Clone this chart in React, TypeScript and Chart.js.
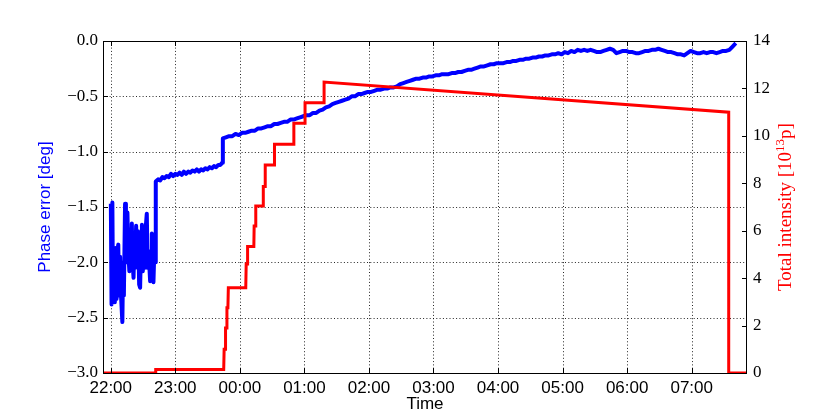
import React, { useEffect, useRef } from 'react';
import { Chart, registerables } from 'chart.js';

Chart.register(...registerables);

// x values are minutes after 22:00
const hourTicks = [0, 60, 120, 180, 240, 300, 360, 420, 480, 540];
const hourLabels = ['22:00', '23:00', '00:00', '01:00', '02:00', '03:00', '04:00', '05:00', '06:00', '07:00'];
const phaseTicks = [-3, -2.5, -2, -1.5, -1, -0.5, 0];
const intensityTicks = [0, 2, 4, 6, 8, 10, 12, 14];

const phaseTimes = [
  0.1, 0.75, 1.5, 2.1, 3.1, 3.8, 4.6, 5.4, 6.1, 7.0, 7.7, 8.7, 9.6, 10.8, 11.5, 12.2, 13.3, 14.1, 14.7, 15.5,
  16.3, 17.3, 18.0, 18.9, 19.6, 20.3, 21.2, 22.0, 22.6, 23.6, 24.5, 25.4, 26.4, 27.3, 28.2, 29.0, 29.8, 30.6,
  31.5, 32.4, 33.5, 34.3, 35.2, 36.6, 37.5, 38.2, 38.9, 39.7, 40.5, 41.3, 41.7,
  42, 44, 46, 48, 50, 52, 54, 56, 58, 60, 62, 64, 66, 68, 70, 72, 74, 76, 78, 80, 82, 84, 86, 88, 90, 92, 94,
  96, 98, 100, 102, 103.5,
  104.2, 107, 110, 113, 116, 119, 122, 125, 128, 131, 134, 137, 140, 143, 146, 149, 152, 155, 158, 161, 164,
  167, 170, 173, 176, 179, 182, 185, 188, 191, 194, 197, 200, 203, 206,
  209, 212, 215, 218, 221, 224, 227, 230, 233, 236, 239, 242, 245, 248, 251, 254, 257, 260, 263, 266, 269,
  272, 275, 278, 281, 284, 287, 290, 293, 296, 299, 302, 305, 308, 311, 314, 317, 320, 323, 326, 329, 332,
  335, 338, 341, 344, 347, 350, 353, 356, 359, 362, 365, 368, 371, 374, 377, 380, 383, 386, 389, 392, 395,
  398, 401, 404, 407, 410, 413, 416, 419, 422, 425, 428, 431, 434, 437, 440, 443, 446, 449, 452,
  455, 458, 461, 464, 467, 470, 473, 476, 479, 482, 485, 488, 491, 494, 497, 500, 503, 506, 509, 512, 515,
  518, 521, 524, 527, 530, 533, 536, 539, 542, 545, 548, 551, 554, 557, 560, 563, 566, 569, 572, 575, 578, 581,
];
const phaseValues = [
  -1.47, -2.38, -1.46, -2.30, -1.93, -2.36, -1.87, -2.33, -1.90, -1.84, -2.30, -1.95, -2.31, -2.54, -2.00,
  -2.30, -1.47, -1.52, -2.00, -1.55, -1.90, -2.08, -1.70, -1.97, -1.65, -2.00, -2.14, -1.80, -2.05, -1.67,
  -2.00, -1.72, -2.20, -2.23, -1.80, -1.66, -2.08, -1.85, -2.05, -1.70, -1.56, -2.05, -1.90, -2.17, -1.95,
  -1.74, -2.00, -2.18, -1.90, -2.00, -1.28,
  -1.27, -1.25, -1.26, -1.23, -1.24, -1.22, -1.23, -1.20, -1.22, -1.20, -1.21, -1.19, -1.21, -1.18, -1.20,
  -1.18, -1.19, -1.17, -1.18, -1.16, -1.18, -1.16, -1.17, -1.15, -1.16, -1.14, -1.15, -1.13, -1.14, -1.12,
  -1.12, -1.10,
  -0.88, -0.87, -0.86, -0.86, -0.84, -0.85, -0.83, -0.83, -0.82, -0.81, -0.81, -0.79, -0.79, -0.78, -0.77,
  -0.77, -0.75, -0.75, -0.74, -0.73, -0.73, -0.71, -0.71, -0.70, -0.69, -0.68, -0.67, -0.67, -0.65, -0.65,
  -0.63, -0.62, -0.60, -0.59, -0.57,
  -0.56, -0.55, -0.54, -0.53, -0.52, -0.50, -0.50, -0.48, -0.48, -0.47, -0.46, -0.46, -0.45, -0.44, -0.44,
  -0.43, -0.43, -0.42, -0.42, -0.41, -0.39, -0.38, -0.37, -0.36, -0.35, -0.34, -0.34, -0.33, -0.33, -0.32,
  -0.32, -0.31, -0.31, -0.30, -0.30, -0.30, -0.29, -0.29, -0.28, -0.28, -0.27, -0.26, -0.26, -0.25, -0.24,
  -0.23, -0.23, -0.22, -0.21, -0.21, -0.20, -0.20, -0.20, -0.19, -0.19, -0.18, -0.18, -0.17, -0.17, -0.16,
  -0.16, -0.15, -0.15, -0.14, -0.14, -0.13, -0.13, -0.12, -0.12, -0.11, -0.12, -0.10, -0.11, -0.09, -0.10,
  -0.08, -0.09, -0.08, -0.09, -0.08, -0.09, -0.10,
  -0.10, -0.09, -0.08, -0.07, -0.08, -0.11, -0.10, -0.09, -0.09, -0.10, -0.10, -0.11, -0.11, -0.10, -0.09,
  -0.09, -0.08, -0.08, -0.07, -0.08, -0.09, -0.10, -0.10, -0.11, -0.12, -0.12, -0.13, -0.11, -0.09, -0.10,
  -0.11, -0.11, -0.10, -0.11, -0.10, -0.10, -0.11, -0.10, -0.09, -0.09, -0.08, -0.05, -0.02,
];

const intensityTimes = [
  -7.2, 41.8, 41.8, 105.0, 105.4, 106.3, 106.7, 107.6, 108.0, 108.9, 109.3, 125.5, 125.9, 126.7, 127.2,
  133.0, 133.3, 134.5, 134.8, 141.6, 141.8, 143.4, 143.6, 152.2, 152.2, 170.2, 170.2, 180.6, 180.6, 198.3,
  198.3, 574.4, 574.4, 591.4,
];
const intensityValues = [
  0, 0, 0.15, 0.15, 1.0, 1.0, 1.9, 1.9, 2.75, 2.75, 3.6, 3.6, 4.6, 4.6, 5.33,
  5.33, 6.2, 6.2, 7.04, 7.04, 7.86, 7.86, 8.77, 8.77, 9.65, 9.65, 10.53, 10.53, 11.4, 11.4,
  12.27, 11.0, 0, 0,
];

const X_MIN = -7.2;
const X_MAX = 591.4;

const SANS = '"Liberation Sans", Arial, sans-serif';
const SERIF = '"Liberation Serif", "Times New Roman", serif';

const framePlugin = {
  id: 'frame',
  beforeDatasetsDraw(chart: any) {
    const { ctx, chartArea: a, scales } = chart;
    ctx.save();
    ctx.strokeStyle = 'rgba(0,0,0,0.85)';
    ctx.lineWidth = 1;
    ctx.setLineDash([1, 2.3]);
    hourTicks.forEach((v) => {
      const x = Math.round(scales.x.getPixelForValue(v)) + 0.5;
      ctx.beginPath();
      ctx.moveTo(x, a.top);
      ctx.lineTo(x, a.bottom);
      ctx.stroke();
    });
    phaseTicks.forEach((v) => {
      if (v === -3 || v === 0) return;
      const y = Math.round(scales.y.getPixelForValue(v)) + 0.5;
      ctx.beginPath();
      ctx.moveTo(a.left, y);
      ctx.lineTo(a.right, y);
      ctx.stroke();
    });
    ctx.restore();
  },
  afterDatasetsDraw(chart: any) {
    const { ctx, chartArea: a, scales } = chart;
    ctx.save();
    ctx.setLineDash([]);
    ctx.strokeStyle = '#000';
    ctx.lineWidth = 1;
    ctx.strokeRect(a.left + 0.5, a.top + 0.5, a.right - a.left - 1, a.bottom - a.top);
    const tl = 5;
    ctx.beginPath();
    hourTicks.forEach((v) => {
      const x = Math.round(scales.x.getPixelForValue(v)) + 0.5;
      ctx.moveTo(x, a.bottom);
      ctx.lineTo(x, a.bottom - tl);
      ctx.moveTo(x, a.top);
      ctx.lineTo(x, a.top + tl);
    });
    phaseTicks.forEach((v) => {
      const y = Math.round(scales.y.getPixelForValue(v)) + 0.5;
      ctx.moveTo(a.left, y);
      ctx.lineTo(a.left + tl, y);
    });
    intensityTicks.forEach((v) => {
      const y = Math.round(scales.y2.getPixelForValue(v)) + 0.5;
      ctx.moveTo(a.right, y);
      ctx.lineTo(a.right - tl, y);
    });
    ctx.stroke();

    const cy = (a.top + a.bottom) / 2;
    // left title
    ctx.save();
    ctx.translate(45, cy);
    ctx.rotate(-Math.PI / 2);
    ctx.fillStyle = '#0000ff';
    ctx.font = `17px ${SANS}`;
    ctx.textAlign = 'center';
    ctx.textBaseline = 'middle';
    ctx.fillText('Phase error [deg]', 0, 0);
    ctx.restore();

    // x title
    ctx.fillStyle = '#000';
    ctx.font = `17px ${SANS}`;
    ctx.textAlign = 'center';
    ctx.textBaseline = 'middle';
    ctx.fillText('Time', (a.left + a.right) / 2, 404);

    // right title with superscript
    ctx.save();
    ctx.translate(791, cy);
    ctx.rotate(-Math.PI / 2);
    ctx.fillStyle = '#ff0000';
    ctx.textAlign = 'left';
    ctx.textBaseline = 'alphabetic';
    const mainFont = `19px ${SERIF}`;
    const supFont = `13px ${SERIF}`;
    const parts = [
      { t: 'Total intensity [10', f: mainFont, dy: 0 },
      { t: '13', f: supFont, dy: -7 },
      { t: 'p]', f: mainFont, dy: 0 },
    ];
    let total = 0;
    parts.forEach((p) => {
      ctx.font = p.f;
      total += ctx.measureText(p.t).width;
    });
    let x = -total / 2;
    parts.forEach((p) => {
      ctx.font = p.f;
      ctx.fillText(p.t, x, p.dy);
      x += ctx.measureText(p.t).width;
    });
    ctx.restore();
    ctx.restore();
  },
};

export default function App() {
  const ref = useRef<HTMLCanvasElement>(null);
  useEffect(() => {
    const phaseData = phaseTimes.map((t, i) => ({ x: t, y: phaseValues[i] }));
    const intensityData = intensityTimes.map((t, i) => ({ x: t, y: intensityValues[i] }));
    const chart = new Chart(ref.current as HTMLCanvasElement, {
      type: 'line',
      data: {
        datasets: [
          {
            label: 'Total intensity',
            data: intensityData,
            yAxisID: 'y2',
            borderColor: '#ff0000',
            borderWidth: 3,
            pointRadius: 0,
            tension: 0,
            fill: false,
            borderJoinStyle: 'miter',
            borderCapStyle: 'butt',
          },
          {
            label: 'Phase error',
            data: phaseData,
            yAxisID: 'y',
            borderColor: '#0000ff',
            borderWidth: 4,
            pointRadius: 0,
            tension: 0,
            fill: false,
            borderJoinStyle: 'round',
          },
        ],
      },
      options: {
        animation: false,
        responsive: false,
        devicePixelRatio: 1,
        layout: { padding: { top: 41, left: 0, right: 0, bottom: 0 } },
        plugins: { legend: { display: false }, tooltip: { enabled: false } },
        scales: {
          x: {
            type: 'linear',
            position: 'bottom',
            min: X_MIN,
            max: X_MAX,
            afterBuildTicks: (s: any) => {
              s.ticks = hourTicks.map((value) => ({ value }));
            },
            afterFit: (s: any) => {
              s.height = 42;
            },
            ticks: {
              autoSkip: false,
              maxRotation: 0,
              padding: 5,
              color: '#000',
              font: { family: SANS, size: 17 },
              callback: (v: any) => hourLabels[hourTicks.indexOf(Number(v))] ?? '',
            },
            grid: { display: false, drawTicks: false },
            border: { display: false },
          },
          y: {
            type: 'linear',
            position: 'left',
            min: -3,
            max: 0,
            afterBuildTicks: (s: any) => {
              s.ticks = phaseTicks.map((value) => ({ value }));
            },
            afterFit: (s: any) => {
              s.width = 103;
            },
            ticks: {
              padding: 5,
              color: '#000',
              font: { family: SERIF, size: 17 },
              callback: (v: any) => {
                const n = Number(v);
                return (n < 0 ? '\u2212' : '') + Math.abs(n).toFixed(1);
              },
            },
            grid: { display: false, drawTicks: false },
            border: { display: false },
          },
          y2: {
            type: 'linear',
            position: 'right',
            min: 0,
            max: 14,
            afterBuildTicks: (s: any) => {
              s.ticks = intensityTicks.map((value) => ({ value }));
            },
            afterFit: (s: any) => {
              s.width = 83;
            },
            ticks: {
              padding: 6,
              color: '#000',
              font: { family: SERIF, size: 17 },
              callback: (v: any) => String(v),
            },
            grid: { display: false, drawTicks: false },
            border: { display: false },
          },
        },
      },
      plugins: [framePlugin],
    } as any);
    return () => chart.destroy();
  }, []);
  return (
    <div style={{ position: 'fixed', left: 0, top: 0, width: 830, height: 415, background: '#fff' }}>
      <canvas ref={ref} width={830} height={415} style={{ display: 'block' }} />
    </div>
  );
}
